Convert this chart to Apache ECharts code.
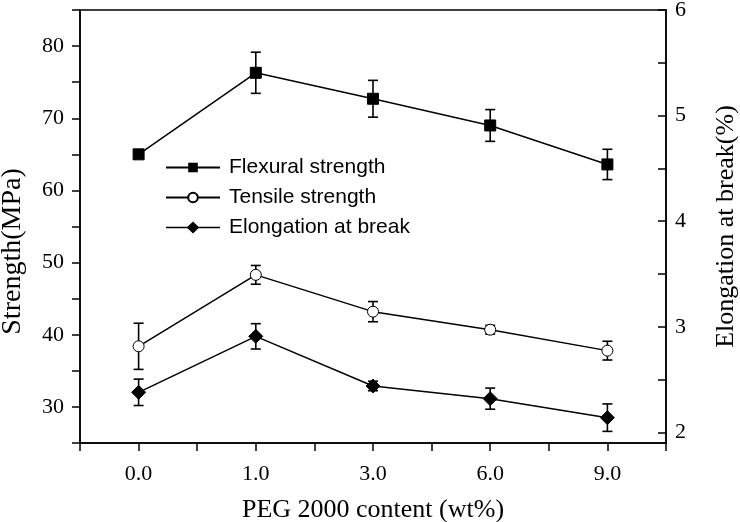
<!DOCTYPE html>
<html>
<head>
<meta charset="utf-8">
<script src="https://cdn.jsdelivr.net/npm/echarts@6/dist/echarts.min.js"></script>
<style>html,body{margin:0;padding:0;background:#fff}#c{width:740px;height:522px}</style>
</head>
<body>
<div id="c"></div>
<script>
const categories = ['0.0', '1.0', '3.0', '6.0', '9.0'];
const flexural = [65.0, 76.3, 72.7, 69.0, 63.6];
const flexuralErr = [0.4, 2.85, 2.55, 2.2, 2.1];
const tensile = [38.4, 48.3, 43.2, 40.7, 37.8];
const tensileErr = [3.2, 1.3, 1.4, 0.6, 1.3];
const elongation = [2.38, 2.91, 2.44, 2.32, 2.14];
const elongationErr = [0.125, 0.12, 0.045, 0.1, 0.13];
const leftTicks = [30, 40, 50, 60, 70, 80];
const rightTicks = [2, 3, 4, 5, 6];
const rightMinorTicks = [2, 2.5, 3, 3.5, 4, 4.5, 5, 5.5, 6];

const serif = 'Liberation Serif, Times New Roman, serif';
const sans = 'Liberation Sans, Arial, sans-serif';

function pts(vals) { return vals.map((v, i) => [i, v]); }
function errs(vals, e) { return vals.map((v, i) => [i, v - e[i], v + e[i]]); }

function errRender(params, api) {
  const x = api.value(0);
  const lo = api.coord([x, api.value(1)]);
  const hi = api.coord([x, api.value(2)]);
  const w = 5;
  const style = { stroke: '#000', lineWidth: 1.6, fill: null };
  return {
    type: 'group',
    children: [
      { type: 'line', shape: { x1: lo[0], y1: lo[1], x2: hi[0], y2: hi[1] }, style },
      { type: 'line', shape: { x1: lo[0] - w, y1: lo[1], x2: lo[0] + w, y2: lo[1] }, style },
      { type: 'line', shape: { x1: hi[0] - w, y1: hi[1], x2: hi[0] + w, y2: hi[1] }, style }
    ]
  };
}

const diamondIcon = 'path://M0,5.3 L21.5,5.3 L27,0 L32.5,5.3 L54,5.3 L54,6.7 L32.5,6.7 L27,12 L21.5,6.7 L0,6.7 Z';

const chart = echarts.init(document.getElementById('c'), null, { renderer: 'canvas' });
chart.setOption({
  animation: false,
  backgroundColor: '#fff',
  grid: { left: 80, right: 74, top: 10, bottom: 79, containLabel: false, outerBoundsMode: 'none', show: true, borderColor: '#000', borderWidth: 1.5, backgroundColor: 'transparent' },
  legend: {
    orient: 'vertical', left: 160, top: 152, itemGap: 9,
    itemWidth: 54, itemHeight: 12,
    data: [
      { name: 'Flexural strength' },
      { name: 'Tensile strength' },
      { name: 'Elongation at break', icon: diamondIcon }
    ],
    textStyle: { fontFamily: sans, fontSize: 21, color: '#000', padding: [0, 0, 0, 4] }
  },
  xAxis: {
    type: 'value', min: -0.5, max: 4.5, interval: 0.5,
    name: 'PEG 2000 content (wt%)', nameLocation: 'middle', nameGap: 54,
    nameTextStyle: { fontFamily: serif, fontSize: 26, color: '#000' },
    axisLine: { onZero: false, lineStyle: { color: '#000', width: 1.5 } },
    axisTick: { inside: false, length: 8, lineStyle: { color: '#000', width: 1.5 } },
    axisLabel: {
      fontFamily: serif, fontSize: 22, color: '#000', margin: 20,
      formatter: v => (Math.abs(v - Math.round(v)) < 1e-6 && v >= 0 && v < categories.length) ? categories[Math.round(v)] : ''
    },
    splitLine: { show: false }
  },
  yAxis: [{
    type: 'value', min: 25, max: 85, interval: 5, position: 'left',
    name: 'Strength(MPa)', nameLocation: 'middle', nameGap: 53, nameRotate: 90,
    nameTextStyle: { fontFamily: serif, fontSize: 28, color: '#000', padding: [0, 50, 0, 0] },
    axisLine: { show: true, onZero: false, lineStyle: { color: '#000', width: 1.5 } },
    axisTick: { inside: false, length: 8, lineStyle: { color: '#000', width: 1.5 } },
    axisLabel: {
      fontFamily: serif, fontSize: 22, color: '#000', margin: 16,
      formatter: v => leftTicks.indexOf(v) >= 0 ? String(v) : ''
    },
    splitLine: { show: false }
  }, {
    type: 'value', min: 1.9, max: 6, position: 'right',
    name: 'Elongation at break(%)', nameLocation: 'middle', nameGap: 47, nameRotate: 90,
    nameTextStyle: { fontFamily: serif, fontSize: 26, color: '#000' },
    axisLine: { show: true, onZero: false, lineStyle: { color: '#000', width: 1.5 } },
    axisTick: { inside: true, length: 8, customValues: rightMinorTicks, lineStyle: { color: '#000', width: 1.5 } },
    axisLabel: { fontFamily: serif, fontSize: 22, color: '#000', margin: 9, customValues: rightTicks, formatter: v => String(v) },
    splitLine: { show: false }
  }],
  series: [
    { type: 'custom', name: 'fe', z: 1, renderItem: errRender, data: errs(flexural, flexuralErr), yAxisIndex: 0, encode: { x: 0, y: [1, 2] } },
    { type: 'custom', name: 'te', z: 1, renderItem: errRender, data: errs(tensile, tensileErr), yAxisIndex: 0, encode: { x: 0, y: [1, 2] } },
    { type: 'custom', name: 'ee', z: 1, renderItem: errRender, data: errs(elongation, elongationErr), yAxisIndex: 1, encode: { x: 0, y: [1, 2] } },
    {
      type: 'line', name: 'Flexural strength', data: pts(flexural), yAxisIndex: 0, z: 3,
      symbol: 'rect', symbolSize: 11,
      lineStyle: { color: '#000', width: 1.5 }, itemStyle: { color: '#000', borderColor: '#000' }
    },
    {
      type: 'line', name: 'Tensile strength', data: pts(tensile), yAxisIndex: 0, z: 3,
      symbol: 'circle', symbolSize: 11,
      lineStyle: { color: '#000', width: 1.5 }, itemStyle: { color: '#fff', borderColor: '#000', borderWidth: 1 }
    },
    {
      type: 'line', name: 'Elongation at break', data: pts(elongation), yAxisIndex: 1, z: 3,
      symbol: 'diamond', symbolSize: 14,
      lineStyle: { color: '#000', width: 1.5 }, itemStyle: { color: '#000', borderColor: '#000' }
    }
  ]
});
</script>
</body>
</html>
